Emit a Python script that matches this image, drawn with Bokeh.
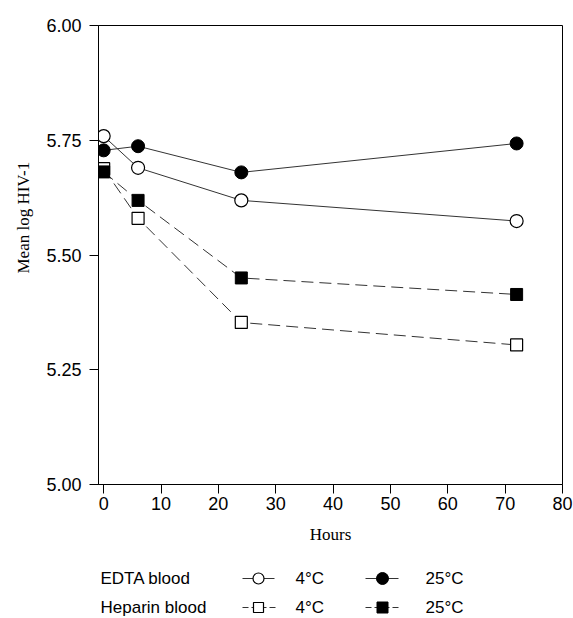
from bokeh.plotting import figure
from bokeh.models import Range1d, FixedTicker, NumeralTickFormatter, Title
from bokeh.layouts import column
from bokeh.embed import file_html
from bokeh.resources import INLINE
from bokeh.core.properties import value

# ---- data ----
hours = [0, 6, 24, 72]
edta_4c = [5.759, 5.690, 5.619, 5.574]
edta_25c = [5.728, 5.737, 5.680, 5.743]
hep_4c = [5.688, 5.580, 5.353, 5.304]
hep_25c = [5.681, 5.619, 5.450, 5.414]

x_ticks = [0, 10, 20, 30, 40, 50, 60, 70, 80]
y_ticks = [5.00, 5.25, 5.50, 5.75, 6.00]
row_labels = ["EDTA blood", "Heparin blood"]
temp_labels = ["4°C", "25°C"]

W = 573
FL, FR, FT, FH = 98, 562, 25, 459   # frame box in page pixels
LINE = "#333333"
SANS = "Liberation Sans"
SERIF = "Liberation Serif"
FS = "17px"
TFS = "18px"

p = figure(width=W, height=550, x_range=Range1d(-0.9, 80), y_range=Range1d(5.0, 6.0),
           output_backend="svg", toolbar_location=None,
           min_border_left=FL, min_border_right=W - FR,
           min_border_top=FT, min_border_bottom=550 - FT - FH)
p.grid.visible = False
p.outline_line_color = "black"
p.outline_line_width = 1
p.outline_line_alpha = 1
p.background_fill_color = "white"
p.border_fill_color = "white"

for ax in (p.xaxis[0], p.yaxis[0]):
    ax.axis_line_color = "black"
    ax.axis_line_width = 1
    ax.major_tick_line_color = "black"
    ax.major_tick_in = 0
    ax.major_tick_out = 9
    ax.minor_tick_out = 0
    ax.minor_tick_in = 0
    ax.major_label_text_font = SANS
    ax.major_label_text_font_size = TFS
    ax.major_label_text_color = "black"

p.xaxis.ticker = FixedTicker(ticks=x_ticks, minor_ticks=[])
p.yaxis.ticker = FixedTicker(ticks=y_ticks, minor_ticks=[])
p.yaxis.formatter = NumeralTickFormatter(format="0.00")
p.xaxis.major_label_standoff = 3
p.yaxis.major_label_standoff = 8
p.xaxis.axis_label = "Hours"
p.xaxis.axis_label_text_font = SERIF
p.xaxis.axis_label_text_font_size = FS
p.xaxis.axis_label_text_font_style = "normal"
p.xaxis.axis_label_text_color = "black"
p.xaxis.axis_label_standoff = 12

ytitle = Title(text="Mean log HIV-1", align="left", offset=211,
               text_font=SERIF, text_font_size=FS, text_font_style="normal",
               text_color="black", standoff=22)
p.add_layout(ytitle, "left")

# lines
p.line(hours, edta_4c, line_color=LINE, line_width=1)
p.line(hours, edta_25c, line_color=LINE, line_width=1)
p.line(hours, hep_4c, line_color=LINE, line_width=1, line_dash="12 6")
p.line(hours, hep_25c, line_color=LINE, line_width=1, line_dash="12 6")
# markers
p.scatter(hours, hep_4c, marker="square", size=12, fill_color="white", line_color="black", line_width=1.2)
p.scatter(hours, hep_25c, marker="square", size=12, fill_color="black", line_color="black")
p.scatter(hours, edta_25c, marker="circle", size=13, fill_color="black", line_color="black")
p.scatter(hours, edta_4c, marker="circle", size=13, fill_color="white", line_color="black", line_width=1.2)

# legend strip below (its frame is aligned with the main frame; coordinates in page pixels)
LTOP = 550
LH = 66
leg = figure(width=W, height=LH, x_range=Range1d(FL, FR), y_range=Range1d(LTOP + LH, LTOP),
             output_backend="svg", toolbar_location=None, min_border=0,
             min_border_left=FL, min_border_right=W - FR,
             x_axis_type=None, y_axis_type=None)
leg.grid.visible = False
leg.outline_line_color = None
leg.border_fill_color = "white"
leg.background_fill_color = "white"

row_y = [578, 607]
leg.text(x=[100, 100], y=row_y, text=row_labels, text_font=value(SANS),
         text_font_size=value(FS), text_baseline="middle", text_align="left", text_color="black")
leg.text(x=[295, 295], y=row_y, text=[temp_labels[0]] * 2, text_font=value(SANS),
         text_font_size=value(FS), text_baseline="middle", text_align="left", text_color="black")
leg.text(x=[425, 425], y=row_y, text=[temp_labels[1]] * 2, text_font=value(SANS),
         text_font_size=value(FS), text_baseline="middle", text_align="left", text_color="black")

leg.segment(x0=[242, 365], y0=[row_y[0]] * 2, x1=[274, 398], y1=[row_y[0]] * 2,
            line_color=LINE, line_width=1)
leg.segment(x0=[242, 365], y0=[row_y[1]] * 2, x1=[277, 398], y1=[row_y[1]] * 2,
            line_color=LINE, line_width=1, line_dash="6 3")
leg.scatter([258], [row_y[0]], marker="circle", size=11, fill_color="white", line_color="black", line_width=1.2)
leg.scatter([382], [row_y[0]], marker="circle", size=12, fill_color="black", line_color="black")
leg.scatter([258], [row_y[1]], marker="square", size=10, fill_color="white", line_color="black", line_width=1.2)
leg.scatter([382], [row_y[1]], marker="square", size=11, fill_color="black", line_color="black")

layout = column(p, leg, spacing=0)
open("out.html", "w").write(file_html(layout, INLINE))
